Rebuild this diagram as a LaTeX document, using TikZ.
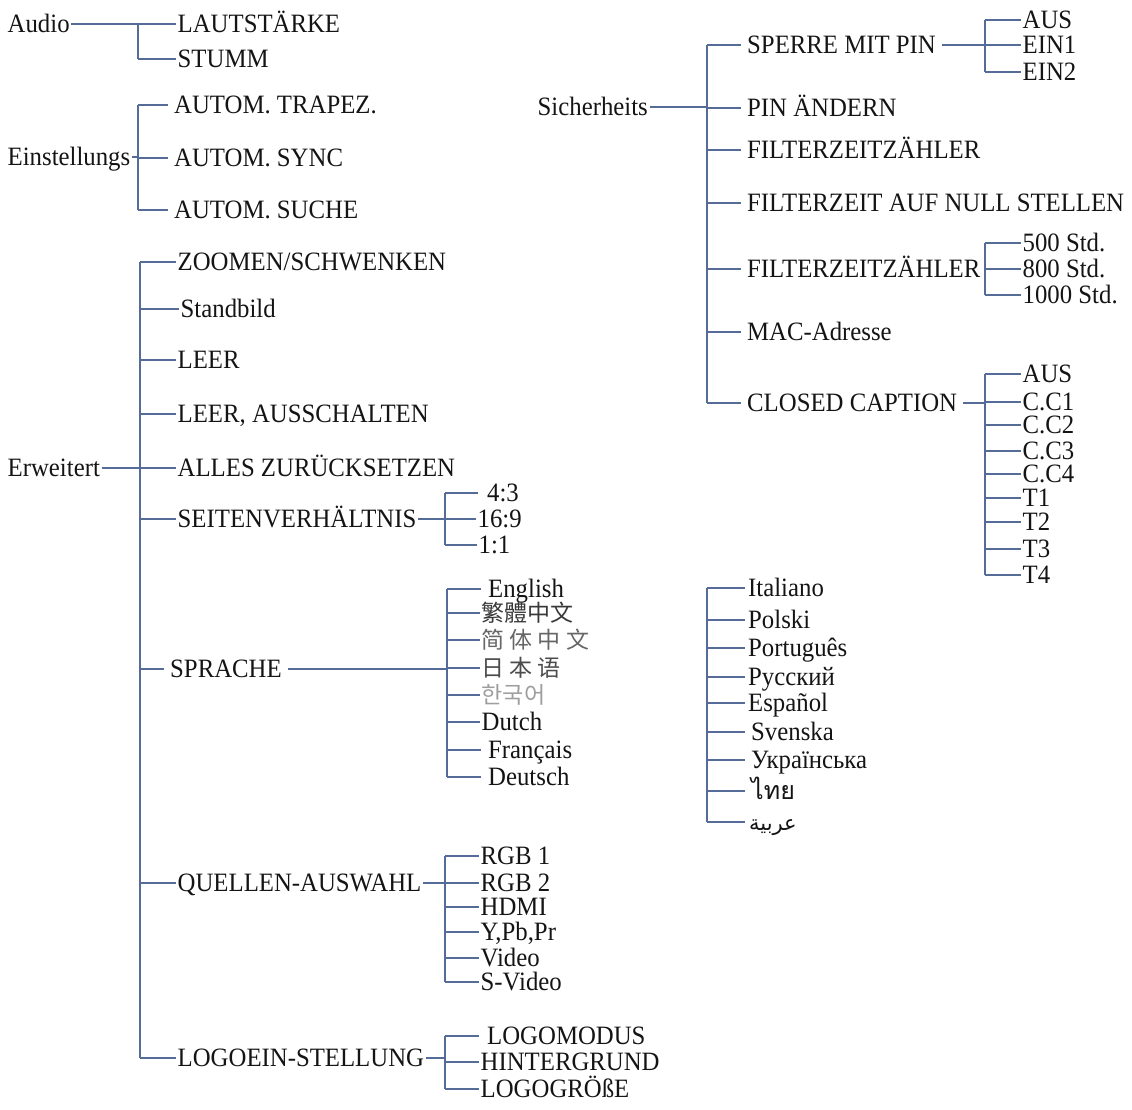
\documentclass[tikz,border=0pt]{standalone}
\usepackage{fontspec}
\setmainfont{Liberation Serif}[FakeStretch=0.935]
\newfontfamily\cjktc{Noto Sans CJK TC}
\newfontfamily\cjksc{Noto Sans CJK SC}
\newfontfamily\cjkjp{Noto Sans CJK JP}
\newfontfamily\cjkkr{Noto Sans CJK KR}
\newfontfamily\thaifont[Script=Thai]{Loma}
\newfontfamily\arabicfont[Script=Arabic]{DejaVu Sans}
\TeXXeTstate=1
\definecolor{wire}{RGB}{86,108,152}
\definecolor{ink}{RGB}{20,20,20}
\tikzset{
  item/.style={anchor=west, inner xsep=1.5pt, inner ysep=0pt,
    text height=17.8pt, text depth=0.2pt,
    font=\fontsize{26.5}{28}\selectfont, text=ink},
  gap/.style={inner xsep=6pt},
  wire/.style={draw=wire, line width=2.1pt},
}
% parent -> spine -> children
\newcommand\branch[3]{%
  \draw[wire] (#2.east) -- (#1 |- #2.east);
  \foreach \c in {#3} {\draw[wire] (#1 |- \c.west) -- (\c.west);}
}
\begin{document}
\begin{tikzpicture}[x=1pt,y=-1pt]
\useasboundingbox (0,0) rectangle (1132,1110);

% ---------- Audio ----------
\node[item] (audio) at (6,24) {Audio};
\node[item] (laut)  at (176,24) {LAUTSTÄRKE};
\node[item] (stumm) at (176,59) {STUMM};
\coordinate (sA) at (138,0);
\draw[wire] (sA |- laut.west) -- (sA |- stumm.west);
\branch{sA}{audio}{laut,stumm}

% ---------- Einstellungs ----------
\node[item] (einst) at (6,157) {Einstellungs};
\node[item,gap] (trap) at (168,105) {AUTOM. TRAPEZ.};
\node[item,gap] (sync) at (168,158) {AUTOM. SYNC};
\node[item,gap] (such) at (168,210) {AUTOM. SUCHE};
\coordinate (sE) at (138,0);
\draw[wire] (sE |- trap.west) -- (sE |- such.west);
\branch{sE}{einst}{trap,sync,such}

% ---------- Erweitert ----------
\node[item] (erw) at (6,468) {Erweitert};
\node[item] (zoom)    at (176,262) {ZOOMEN/SCHWENKEN};
\node[item] (stand)   at (179,309) {Standbild};
\node[item] (leer)    at (176,360) {LEER};
\node[item] (leeraus) at (176,414) {LEER, AUSSCHALTEN};
\node[item] (alles)   at (176,468) {ALLES ZURÜCKSETZEN};
\node[item] (seiten)  at (176,519) {SEITENVERHÄLTNIS};
\node[item,gap] (sprache) at (164,669) {SPRACHE};
\node[item] (quellen) at (176,883) {QUELLEN-AUSWAHL};
\node[item] (logo)    at (176,1058) {LOGOEIN-STELLUNG};
\coordinate (sW) at (140,0);
\draw[wire] (sW |- zoom.west) -- (sW |- logo.west);
\branch{sW}{erw}{zoom,stand,leer,leeraus,alles,seiten,sprache,quellen,logo}

% aspect ratio
\node[item,inner xsep=9pt] (r43) at (478,493) {4:3};
\node[item] (r169) at (476,519) {16:9};
\node[item] (r11)  at (477,545) {1:1};
\coordinate (sR) at (445,0);
\draw[wire] (sR |- r43.west) -- (sR |- r11.west);
\branch{sR}{seiten}{r43,r169,r11}

% languages
\node[item,inner xsep=7pt] (en) at (481,589) {English};
\node[item,text=black!78] (tc) at (480,613) {\cjktc\fontsize{23}{24}\selectfont 繁體中文};
\node[item,text=black!60] (sc) at (480,640) {\cjksc\fontsize{23}{24}\selectfont 简 体 中 文};
\node[item,text=black!70] (jp) at (480,668) {\cjkjp\fontsize{23}{24}\selectfont 日 本 语};
\node[item,text=black!38] (kr) at (480,695) {\cjkkr\fontsize{23}{24}\selectfont 한국어};
\node[item] (nl) at (480,722) {Dutch};
\node[item,inner xsep=7pt] (fr) at (481,750) {Français};
\node[item,inner xsep=7pt] (de) at (481,777) {Deutsch};
\coordinate (sL) at (447,0);
\draw[wire] (sL |- en.west) -- (sL |- de.west);
\branch{sL}{sprache}{en,tc,sc,jp,kr,nl,fr,de}

% more languages
\node[item,inner xsep=3pt] (it) at (745,588) {Italiano};
\node[item,inner xsep=3pt] (pl) at (745,620) {Polski};
\node[item,inner xsep=3pt] (pt) at (745,648) {Português};
\node[item,inner xsep=3pt] (ru) at (745,677) {Русский};
\node[item,inner xsep=3pt] (es) at (745,703) {Español};
\node[item,inner xsep=6pt] (sv) at (745,732) {Svenska};
\node[item,inner xsep=6pt] (uk) at (745,760) {Українська};
\node[item,inner xsep=6pt] (th) at (745,791) {\thaifont\fontsize{25}{26}\selectfont ไทย};
\node[item,inner xsep=4pt] (ar) at (745,822) {\arabicfont\fontsize{21}{22}\selectfont\beginR عربية\endR};
\coordinate (sL2) at (707,0);
\draw[wire] (sL2 |- it.west) -- (sL2 |- ar.west);
\foreach \c in {it,pl,pt,ru,es,sv,uk,th,ar} {\draw[wire] (sL2 |- \c.west) -- (\c.west);}

% sources
\node[item] (rgb1)  at (479,856) {RGB 1};
\node[item] (rgb2)  at (479,883) {RGB 2};
\node[item] (hdmi)  at (479,907) {HDMI};
\node[item] (ypbpr) at (479,932) {Y,Pb,Pr};
\node[item] (video) at (479,958) {Video};
\node[item] (svid)  at (479,982) {S-Video};
\coordinate (sQ) at (445,0);
\draw[wire] (sQ |- rgb1.west) -- (sQ |- svid.west);
\branch{sQ}{quellen}{rgb1,rgb2,hdmi,ypbpr,video,svid}

% logo settings
\node[item,inner xsep=8pt] (lm) at (479,1036) {LOGOMODUS};
\node[item] (hg) at (479,1062) {HINTERGRUND};
\node[item] (lg) at (479,1089) {LOGOGRÖßE};
\coordinate (sG) at (445,0);
\draw[wire] (sG |- lm.west) -- (sG |- lg.west);
\draw[wire] (logo.east) -- (sG |- logo.east);
\foreach \c in {lm,hg,lg} {\draw[wire] (sG |- \c.west) -- (\c.west);}

% ---------- Sicherheits ----------
\node[item] (sich) at (536,107) {Sicherheits};
\node[item,gap] (sperre) at (741,45)  {SPERRE MIT PIN};
\node[item,gap] (pin)    at (741,108) {PIN ÄNDERN};
\node[item,gap] (fz1)    at (741,150) {FILTERZEITZÄHLER};
\node[item,gap] (fzn)    at (741,203) {FILTERZEIT AUF NULL STELLEN};
\node[item,gap] (fz2)    at (741,269) {FILTERZEITZÄHLER};
\node[item,gap] (mac)    at (741,332) {MAC-Adresse};
\node[item,gap] (cc)     at (741,403) {CLOSED CAPTION};
\coordinate (sS) at (707,0);
\draw[wire] (sS |- sperre.west) -- (sS |- cc.west);
\branch{sS}{sich}{sperre,pin,fz1,fzn,fz2,mac,cc}

% PIN lock options
\node[item] (paus) at (1021,20) {AUS};
\node[item] (ein1) at (1021,45) {EIN1};
\node[item] (ein2) at (1021,72) {EIN2};
\coordinate (sP) at (985,0);
\draw[wire] (sP |- paus.west) -- (sP |- ein2.west);
\branch{sP}{sperre}{paus,ein1,ein2}

% filter hours
\node[item] (h500)  at (1021,243) {500 Std.};
\node[item] (h800)  at (1021,269) {800 Std.};
\node[item] (h1000) at (1021,295) {1000 Std.};
\coordinate (sF) at (985,0);
\draw[wire] (sF |- h500.west) -- (sF |- h1000.west);
\branch{sF}{fz2}{h500,h800,h1000}

% closed caption options
\node[item] (caus) at (1021,374) {AUS};
\node[item] (cc1) at (1021,402) {C.C1};
\node[item] (cc2) at (1021,425) {C.C2};
\node[item] (cc3) at (1021,451) {C.C3};
\node[item] (cc4) at (1021,474) {C.C4};
\node[item] (t1)  at (1021,498) {T1};
\node[item] (t2)  at (1021,522) {T2};
\node[item] (t3)  at (1021,549) {T3};
\node[item] (t4)  at (1021,575) {T4};
\coordinate (sC) at (985,0);
\draw[wire] (sC |- caus.west) -- (sC |- t4.west);
\branch{sC}{cc}{caus,cc1,cc2,cc3,cc4,t1,t2,t3,t4}

\end{tikzpicture}
\end{document}
